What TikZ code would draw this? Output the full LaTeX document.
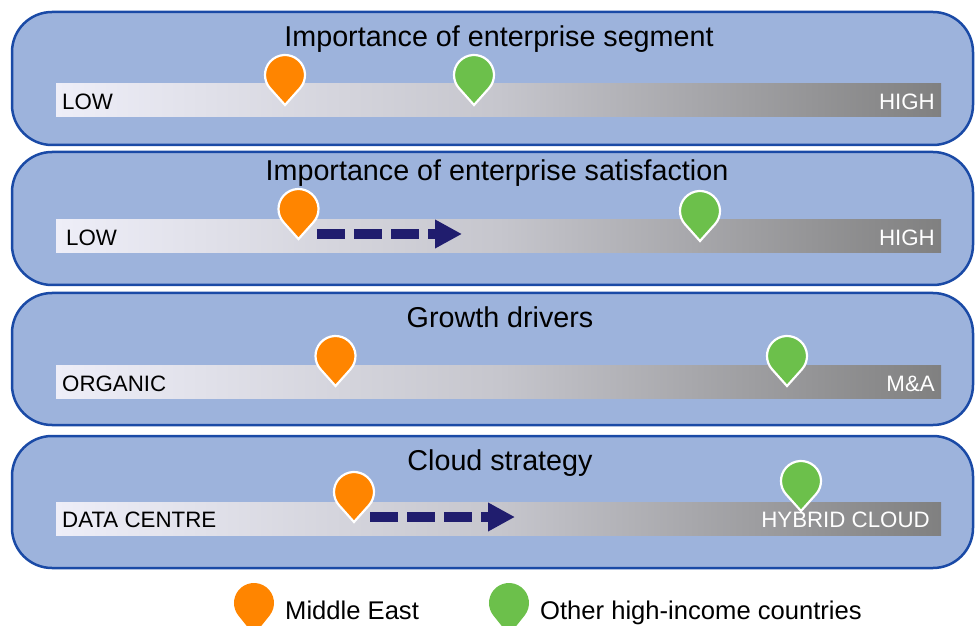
\documentclass[tikz,border=0pt]{standalone}
\usepackage{fontspec}
\setmainfont{Liberation Sans}
\usetikzlibrary{arrows.meta}
\definecolor{panelfill}{HTML}{9DB3DC}
\definecolor{paneledge}{HTML}{1A4AA6}
\definecolor{pinorange}{HTML}{FF8500}
\definecolor{pingreen}{HTML}{6CC04B}
\definecolor{barlight}{HTML}{EEEEF8}
\definecolor{barmid}{HTML}{C6C6CD}
\definecolor{bardark}{HTML}{808080}
\definecolor{shiftnavy}{HTML}{201D6E}

\tikzset{
  panel/.style={fill=panelfill, draw=paneledge, line width=2.5pt, rounded corners=40pt},
  scalebar/.style={left color=barlight, right color=bardark, middle color=barmid},
  title/.style={anchor=base, font=\fontsize{28.7}{34}\selectfont, inner sep=0pt},
  lowlbl/.style={anchor=base west, font=\fontsize{22.3}{26}\selectfont, inner sep=0pt},
  highlbl/.style={anchor=base east, font=\fontsize{22.3}{26}\selectfont, inner sep=0pt, text=white},
  legendlbl/.style={anchor=base west, font=\fontsize{25.6}{30}\selectfont, inner sep=0pt},
  pics/pin/.style={code={
    \filldraw[fill=#1, draw=white, line width=2.2pt]
      (0,0) -- (14.91,16.67) arc[start angle=-41.8, end angle=221.8, radius=20] -- cycle;}},
  pics/legendpin/.style={code={
    \fill[#1] (0,0) -- (15.6,19.5) arc[start angle=-38.7, end angle=218.7, radius=20] -- cycle;}},
  shiftarrow/.style={draw=shiftnavy, line width=10.5pt, dash pattern=on 28pt off 9pt,
    -{Triangle[length=27pt, width=27pt]}}
}

\begin{document}
\begin{tikzpicture}[x=1pt, y=1pt]
\useasboundingbox (0,0) rectangle (975,625);
\begin{scope}
\clip (0,0) rectangle (975,625);

% four rounded panels
\draw[panel] (12,480) rectangle (973,613);
\draw[panel] (12,340) rectangle (973,473);
\draw[panel] (12,200) rectangle (973,332);
\draw[panel] (12,57) rectangle (973,189);

% panel titles
\node[title] (t1) at (499,578) {Importance of enterprise segment};
\node[title] (t2) at (497,444) {Importance of enterprise satisfaction};
\node[title] (t3) at (500,298) {Growth drivers};
\node[title] (t4) at (500,155) {Cloud strategy};

% graded scale bars
\shade[scalebar] (56,508) rectangle (941,541);
\shade[scalebar] (56,372) rectangle (941,405);
\shade[scalebar] (56,227) rectangle (941,260);
\shade[scalebar] (56,90) rectangle (941,123);

% scale end labels
\node[lowlbl] (l1) at (62,515) {LOW};
\node[highlbl] (h1) at (935,515) {HIGH};
\node[lowlbl] (l2) at (66,379) {LOW};
\node[highlbl] (h2) at (935,379) {HIGH};
\node[lowlbl] (l3) at (62,234) {ORGANIC};
\node[highlbl] (h3) at (935,234) {M\&A};
\node[lowlbl] (l4) at (62,98) {DATA CENTRE};
\node[highlbl] (h4) at (930,98) {HYBRID CLOUD};

% expected shift of the Middle East position
\coordinate (s2a) at (317,391);
\coordinate (s2b) at (462,391);
\draw[shiftarrow] (s2a) -- (s2b);
\coordinate (s4a) at (370,108);
\coordinate (s4b) at (515,108);
\draw[shiftarrow] (s4a) -- (s4b);

% position markers
\pic (me1) at (285,520) {pin=pinorange};
\pic (hi1) at (474,520) {pin=pingreen};
\pic (me2) at (298.5,386) {pin=pinorange};
\pic (hi2) at (700,384) {pin=pingreen};
\pic (me3) at (335.5,239) {pin=pinorange};
\pic (hi3) at (787,239) {pin=pingreen};
\pic (me4) at (354,103) {pin=pinorange};
\pic (hi4) at (801,114) {pin=pingreen};

% legend
\pic (lgme) at (254,-10) {legendpin=pinorange};
\node[legendlbl] (lgmetxt) at (285,6) {Middle East};
\pic (lghi) at (509,-10) {legendpin=pingreen};
\node[legendlbl] (lghitxt) at (540,6) {Other high-income countries};
\end{scope}
\end{tikzpicture}
\end{document}
